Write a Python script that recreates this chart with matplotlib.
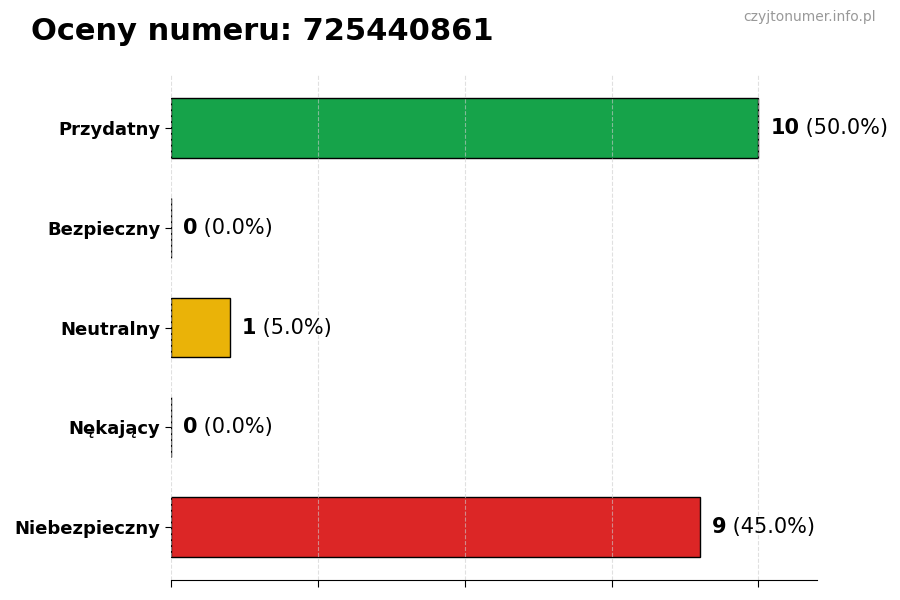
import matplotlib
matplotlib.use("Agg")
import matplotlib.pyplot as plt

# Data
categories = ["Przydatny", "Bezpieczny", "Neutralny", "Nękający", "Niebezpieczny"]
counts = [10, 0, 1, 0, 9]
colors = ["#16a34a", "#3b82f6", "#eab308", "#f97316", "#dc2626"]
number = "725440861"
xticks = [0, 2.5, 5, 7.5, 10]

total = sum(counts)

fig = plt.figure(figsize=(9, 6), dpi=100)
ax = fig.add_axes([0.19, 0.0333, 0.718, 0.8417])

ax.barh(categories, counts, height=0.6, color=colors,
        edgecolor="black", linewidth=1)
ax.invert_yaxis()
ax.set_xlim(0, max(counts) * 1.1)
ax.set_xticks(xticks)

ax.grid(axis="x", linestyle="--", color="#cccccc", alpha=0.6, linewidth=0.8)
for side in ("top", "right", "left"):
    ax.spines[side].set_visible(False)
ax.tick_params(axis="x", labelbottom=False, length=5)
ax.tick_params(axis="y", length=4)
for lbl in ax.get_yticklabels():
    lbl.set_fontsize(13)
    lbl.set_fontweight("bold")

# value labels: bold count followed by regular percentage
for i, c in enumerate(counts):
    pct = c / total * 100
    t = ax.text(c + 0.2, i, f"{c}", fontsize=15, fontweight="bold",
                va="center", ha="left")
    ax.annotate(f" ({pct:.1f}%)", xy=(1, 0.5), xycoords=t,
                fontsize=15, va="center", ha="left")

fig.text(0.034, 0.948, f"Oceny numeru: {number}", fontsize=22,
         fontweight="bold", va="center", ha="left")
fig.text(0.973, 0.972, "czyjtonumer.info.pl", fontsize=10,
         color="#999999", va="center", ha="right")

fig.savefig("out.png", dpi=100)
